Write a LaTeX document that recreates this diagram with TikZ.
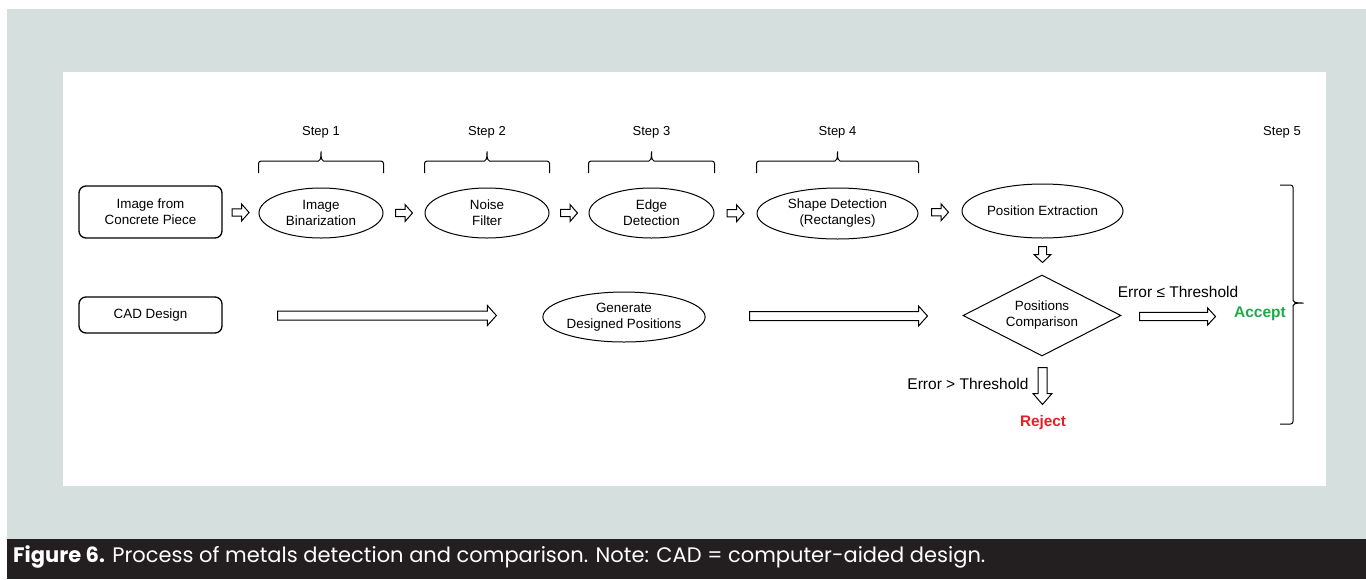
\documentclass[tikz,border=0pt]{standalone}
\usepackage{fontspec}
\setmainfont{Liberation Sans}
\newfontfamily\capfont{Poppins}
\usetikzlibrary{shapes.geometric,calc}
\definecolor{bggrey}{RGB}{213,223,221}
\definecolor{capbar}{RGB}{35,31,32}
\definecolor{accgreen}{RGB}{30,170,75}
\definecolor{rejred}{RGB}{237,28,36}
\tikzset{
  box/.style={draw, line width=1.3pt, rounded corners=7pt, minimum width=143pt, inner sep=0pt, align=center, font=\fontsize{13.4}{16}\selectfont},
  oval/.style={draw, ellipse, line width=1pt, inner sep=0pt, align=center, font=\fontsize{13.4}{16}\selectfont},
  dmd/.style={draw, diamond, aspect=1.95, line width=1pt, inner sep=0pt, align=center, font=\fontsize{13.4}{16}\selectfont},
  blk/.style={draw, line width=1pt, fill=white, line join=miter},
  brc/.style={draw, line width=1pt, rounded corners=2.5pt},
  lbl/.style={font=\fontsize{13}{15}\selectfont, inner sep=0pt},
  biglbl/.style={font=\fontsize{15.5}{17}\selectfont, inner sep=0pt},
}
% hollow block arrow to the right: start, end, shaft half, head half, head length
\newcommand\harrowR[5]{%
  \draw[blk] let \p1=#1, \p2=#2 in
    ({\x1},{\y1+#3}) -- ({\x2-#5},{\y1+#3}) -- ({\x2-#5},{\y1+#4}) -- ({\x2},{\y1})
    -- ({\x2-#5},{\y1-#4}) -- ({\x2-#5},{\y1-#3}) -- ({\x1},{\y1-#3}) -- cycle;}
% hollow block arrow downwards
\newcommand\harrowD[5]{%
  \draw[blk] let \p1=#1, \p2=#2 in
    ({\x1-#3},{\y1}) -- ({\x1-#3},{\y2+#5}) -- ({\x1-#4},{\y2+#5}) -- ({\x1},{\y2})
    -- ({\x1+#4},{\y2+#5}) -- ({\x1+#3},{\y2+#5}) -- ({\x1+#3},{\y1}) -- cycle;}
% small arrow centred in the gap between two nodes
\newcommand\gaparrow[2]{%
  \harrowR{($(#1.east)!0.5!(#2.west)+(-8.5,0)$)}{($(#1.east)!0.5!(#2.west)+(8.5,0)$)}{3.7pt}{8.5pt}{7.5pt}}
% step brace above a node
\newcommand\stepbrace[3]{%
  \draw[brc] let \p1=(#1.west), \p2=(#1.east), \n1={(\x1+\x2)/2} in
    ({\x1},-173pt) -- ({\x1},-161pt) -- ({\n1-5pt},-161pt)
    .. controls ({\n1-1pt},-161pt) and ({\n1},-159pt) .. ({\n1},-150pt)
    .. controls ({\n1},-159pt) and ({\n1+1pt},-161pt) .. ({\n1+5pt},-161pt)
    -- ({\x2},-161pt) -- ({\x2},-173pt);
  \path let \p1=(#1.west), \p2=(#1.east), \n1={(\x1+\x2)/2} in
    node[lbl] (#2) at ({\n1},-132pt) {#3};}
\begin{document}
\begin{tikzpicture}[x=1pt,y=-1pt]
\useasboundingbox (0,0) rectangle (1366,579);
\fill[white] (0,0) rectangle (1366,579);
\fill[bggrey] (7,9) rectangle (1366,539);
\fill[white] (63,72) rectangle (1326,486);
\fill[capbar] (7,539) rectangle (1366,579);

% top row
\node[box, minimum height=52pt] (img) at (150.5,212) {Image from\\Concrete Piece};
\node[oval, minimum width=124pt, minimum height=50pt] (bin) at (321,213) {Image\\Binarization};
\node[oval, minimum width=124pt, minimum height=50pt] (noise) at (487,213) {Noise\\Filter};
\node[oval, minimum width=125pt, minimum height=50pt] (edge) at (651.5,213) {Edge\\Detection};
\node[oval, minimum width=161pt, minimum height=51pt] (shape) at (837.5,213.5) {Shape Detection\\(Rectangles)};
\node[oval, minimum width=161pt, minimum height=54pt] (pos) at (1042.5,211) {Position Extraction};

\gaparrow{img}{bin}
\gaparrow{bin}{noise}
\gaparrow{noise}{edge}
\gaparrow{edge}{shape}
\gaparrow{shape}{pos}

\stepbrace{bin}{s1}{Step 1}
\stepbrace{noise}{s2}{Step 2}
\stepbrace{edge}{s3}{Step 3}
\stepbrace{shape}{s4}{Step 4}
\node[lbl] (s5) at (1282,132) {Step 5};

% second row
\node[box, minimum height=36pt] (cad) at (150.5,315) {CAD Design};
\node[oval, minimum width=160pt, minimum height=50pt] (gen) at (624,317) {Generate\\Designed Positions};
\node[dmd, minimum width=158pt, minimum height=81pt] (cmp) at (1042,315.5) {Positions\\Comparison};

\harrowR{($(cad.east)+(55,0.5)$)}{($(gen.west)+(-46,0)$)}{4.5pt}{10pt}{9pt}
\harrowR{($(gen.east)+(44,-1)$)}{($(cmp.west)+(-35,0)$)}{4.5pt}{10pt}{9pt}
\harrowD{($(pos.south)+(0,8)$)}{($(cmp.north)+(0,-12)$)}{4pt}{8.5pt}{8pt}

\node[lbl, font=\bfseries\fontsize{15.5}{17}\selectfont, text=accgreen] (acc) at (1260,314) {Accept};
\node[lbl, font=\bfseries\fontsize{15.3}{17}\selectfont, text=rejred] (rej) at (1043,423) {Reject};
\node[biglbl] (le) at (1178,292) {Error ≤ Threshold};
\node[biglbl] (gt) at (968,384) {Error > Threshold};

\harrowR{($(cmp.east)+(18,1)$)}{($(cmp.east)+(94,1)$)}{4.2pt}{8.7pt}{8pt}
\harrowD{($(cmp.south)+(0.5,11)$)}{($(cmp.south)+(0.5,48)$)}{4.5pt}{9.5pt}{11pt}

% step 5 brace
\draw[brc] (1280,185) -- (1293,185) -- (1293,298)
  .. controls (1293,302) and (1295,303) .. (1305,303)
  .. controls (1295,303) and (1293,304) .. (1293,308)
  -- (1293,424) -- (1280,424);

% caption
\node[anchor=west, inner sep=0pt, text=white, font=\capfont\fontsize{21}{23}\selectfont] (cap) at (13,557) {\textbf{Figure 6.} Process of metals detection and comparison. Note: CAD = computer-aided design.};
\end{tikzpicture}
\end{document}
